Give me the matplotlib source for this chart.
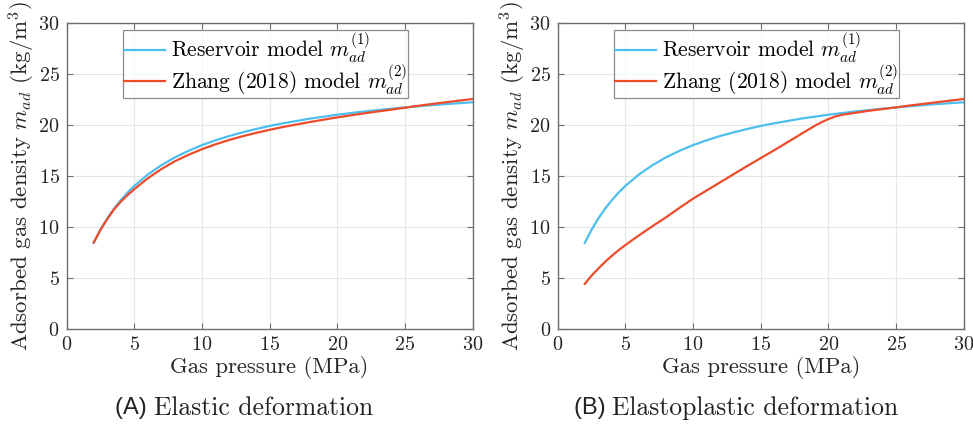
import matplotlib
matplotlib.use("Agg")
import matplotlib.pyplot as plt

plt.rcParams['font.family'] = ['cmr10']
plt.rcParams['mathtext.fontset'] = 'cm'
plt.rcParams['axes.formatter.use_mathtext'] = True
plt.rcParams['axes.unicode_minus'] = False

# ---- data ----
pressure = [2, 2.5, 3, 3.5, 4, 4.5, 5, 6, 7, 8, 9, 10, 11, 12, 13, 14, 15, 16, 18,
            20, 22, 24, 26, 28, 30]
reservoir = [8.41, 9.70, 10.81, 11.77, 12.6, 13.35, 14.0, 15.12, 16.03, 16.8, 17.44,
             18.0, 18.47, 18.89, 19.25, 19.58, 19.88, 20.14, 20.6, 20.98, 21.3, 21.57,
             21.81, 22.02, 22.2]
zhang_elastic = [8.45, 9.7, 10.75, 11.7, 12.45, 13.1, 13.68, 14.75, 15.65, 16.42, 17.05,
                 17.6, 18.08, 18.5, 18.87, 19.2, 19.5, 19.78, 20.27, 20.72, 21.12,
                 21.48, 21.86, 22.2, 22.52]

pressure_ep = [2, 2.5, 3, 3.5, 4, 4.5, 5, 6, 7, 8, 9, 10, 12, 14, 16, 17, 18, 18.5, 19,
               19.5, 20, 20.5, 21, 21.5, 22, 23, 24, 26, 28, 30]
zhang_elastoplastic = [4.4, 5.2, 5.9, 6.55, 7.15, 7.7, 8.2, 9.15, 10.05, 10.92, 11.85,
                       12.75, 14.35, 15.95, 17.5, 18.3, 19.1, 19.5, 19.9, 20.25, 20.55,
                       20.8, 20.97, 21.07, 21.17, 21.37, 21.53, 21.88, 22.2, 22.52]

xticks = [0, 5, 10, 15, 20, 25, 30]
yticks = [0, 5, 10, 15, 20, 25, 30]
captions = ["(A)", "(B)"]
caption_texts = ["Elastic deformation", "Elastoplastic deformation"]
legend_labels = [r"Reservoir model $m_{ad}^{(1)}$", r"Zhang (2018) model $m_{ad}^{(2)}$"]

BLUE = '#4DBEEE'
RED = '#EE4B2B'
FRAME = '#6e6e6e'
TXT = '#262626'

fig = plt.figure(figsize=(9.73, 4.26), dpi=100)
lefts = [0.0685, 0.5732]
axes = [fig.add_axes([l, 0.2284, 0.4173, 0.7183]) for l in lefts]

series = [
    (pressure, zhang_elastic),
    (pressure_ep, zhang_elastoplastic),
]

for i, ax in enumerate(axes):
    px2, y2 = series[i]
    ax.plot(pressure, reservoir, color=BLUE, lw=1.6, label=legend_labels[0])
    ax.plot(px2, y2, color=RED, lw=1.6, label=legend_labels[1])
    ax.set_xlim(0, 30)
    ax.set_ylim(0, 30)
    ax.set_xticks(xticks)
    ax.set_yticks(yticks)
    ax.grid(True, color='#e6e6e6', lw=0.8)
    ax.set_axisbelow(True)
    for s in ax.spines.values():
        s.set_color(FRAME)
        s.set_linewidth(1.0)
    ax.tick_params(direction='in', top=True, right=True, length=4, width=0.8,
                   color=FRAME, labelsize=14.5, labelcolor=TXT, pad=5)
    ax.set_xlabel("Gas pressure (MPa)", fontsize=16.3, color=TXT, labelpad=2)
    ax.set_ylabel(r"Adsorbed gas density $m_{ad}$ (kg/m$^3$)", fontsize=16.5,
                  color=TXT, labelpad=1)
    leg = ax.legend(loc='upper center', bbox_to_anchor=(0.49, 0.99), fontsize=15.5,
                    frameon=True, fancybox=False, edgecolor=FRAME, borderpad=0.05,
                    handlelength=1.9, handletextpad=0.25, labelspacing=-0.15,
                    borderaxespad=0.2)
    leg.get_frame().set_linewidth(0.9)

cap_x = [244.0, 735.8]
fig.canvas.draw()
renderer = fig.canvas.get_renderer()
for i in range(2):
    t1 = fig.text(0, 0.042, captions[i] + " ", family='Liberation Sans',
                  fontsize=17, ha='left', va='center', color='#222222')
    t2 = fig.text(0, 0.042, caption_texts[i], fontsize=18.5,
                  ha='left', va='center', color='#222222')
    w1 = t1.get_window_extent(renderer).width
    w2 = t2.get_window_extent(renderer).width
    start = cap_x[i] - (w1 + w2) / 2
    t1.set_x(start / 973)
    t2.set_x((start + w1) / 973)

fig.savefig("out.png", dpi=100)
